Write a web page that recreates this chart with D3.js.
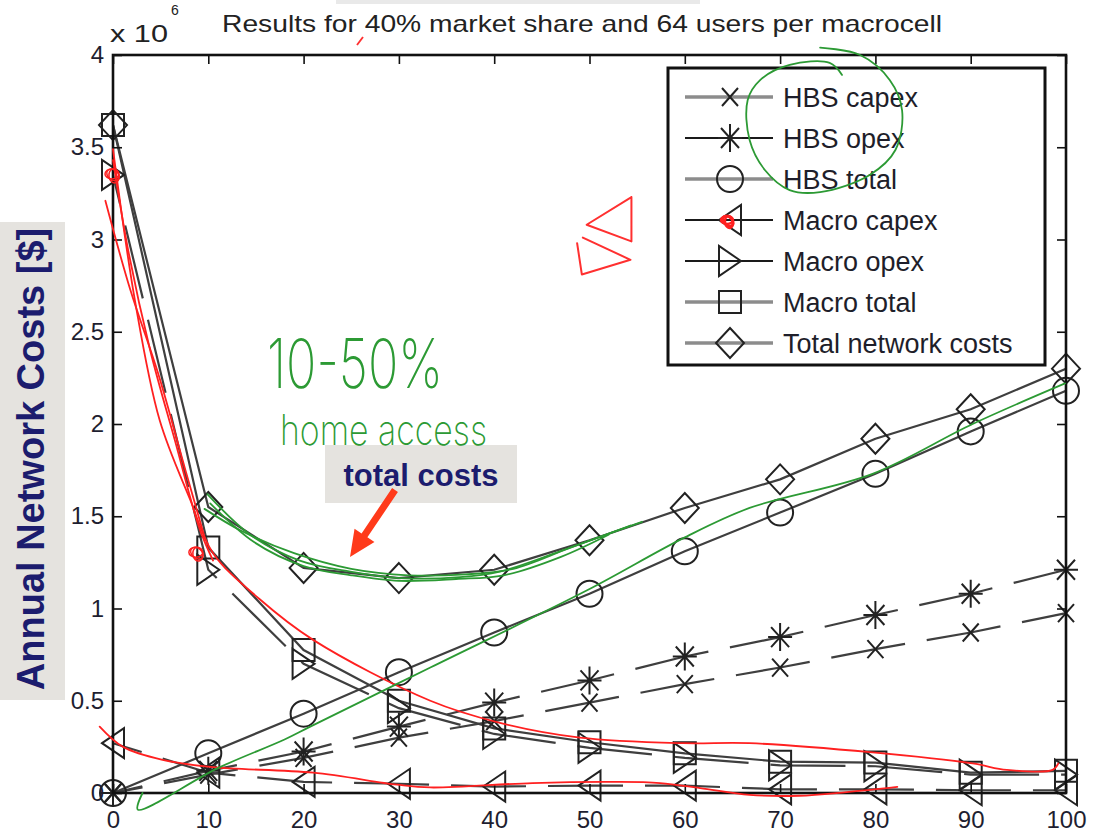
<!DOCTYPE html>
<html>
<head>
<meta charset="utf-8">
<script src="https://cdn.jsdelivr.net/npm/d3@7"></script>
<style>
  body { margin: 0; background: #fff; }
  svg { display: block; font-family: "Liberation Sans", Arial, Helvetica, sans-serif; }
</style>
</head>
<body>
<svg id="chart" width="1094" height="832"></svg>
<script>
// ----------------------
// data (values in 10^6 $)
// ----------------------
const homeShare = [0, 10, 20, 30, 40, 50, 60, 70, 80, 90, 100];

const hbsCapex   = [0, 0.10, 0.19, 0.30, 0.39, 0.49, 0.59, 0.68, 0.78, 0.87, 0.975];
const hbsOpex    = [0, 0.12, 0.225, 0.36, 0.49, 0.61, 0.74, 0.845, 0.965, 1.08, 1.21];
const hbsTotal   = [0, 0.215, 0.43, 0.655, 0.87, 1.08, 1.31, 1.52, 1.73, 1.96, 2.18];
const macroCapex = [0.27, 0.11, 0.06, 0.05, 0.035, 0.04, 0.04, 0.02, 0.02, 0.015, 0.015];
const macroOpex  = [3.35, 1.21, 0.70, 0.46, 0.32, 0.245, 0.19, 0.15, 0.145, 0.10, 0.10];
const macroTotal = [3.62, 1.33, 0.775, 0.50, 0.35, 0.275, 0.215, 0.17, 0.165, 0.11, 0.12];
const totalCosts = [3.62, 1.55, 1.22, 1.165, 1.21, 1.37, 1.545, 1.70, 1.92, 2.08, 2.30];

const seriesNames = ["HBS capex", "HBS opex", "HBS total", "Macro capex", "Macro opex", "Macro total", "Total network costs"];
const xTicks = [0, 10, 20, 30, 40, 50, 60, 70, 80, 90, 100];
const yTicks = [0, 0.5, 1, 1.5, 2, 2.5, 3, 3.5, 4];

// hand-drawn annotations, in data units (x %, y 10^6 $)
const redDownA = [[0, 3.49], [2.3, 2.67], [4.9, 2.02], [8.1, 1.59], [10.5, 1.30], [15.4, 1.05], [21, 0.83],
  [33.3, 0.50], [40.6, 0.38], [49, 0.30], [59.8, 0.27], [66.8, 0.27], [79.7, 0.22], [90.2, 0.16],
  [93.8, 0.125], [98.6, 0.125], [99.2, 0.16]];
const redDownB = [[-0.8, 3.21], [1.8, 2.73], [4.7, 2.28], [7.6, 1.75], [9.7, 1.37]];
const redDownC = [[0, 3.43], [1.6, 2.94], [3.9, 2.40], [6.5, 1.91], [9.1, 1.43], [10.5, 1.26]];
const redLow = [[-1.4, 0.36], [1.05, 0.25], [5.2, 0.18], [10.5, 0.14], [21, 0.11], [29.8, 0.045], [33.3, 0.03],
  [44, 0.054], [52.5, 0.06], [57.4, 0.054], [61.6, 0.027], [66.8, -0.01], [72, -0.015], [77, 0.005], [82.3, 0.033]];
const greenHbs = [[3.1, 0.0], [2.6, -0.09], [11, 0.135], [18, 0.29], [20.7, 0.36], [33.3, 0.68], [49.8, 1.10],
  [59.8, 1.38], [66.8, 1.545], [79.7, 1.73], [90.2, 2.0], [99.9, 2.22]];
const greenTotal1 = [[9.9, 1.62], [14.4, 1.40], [19.6, 1.26], [24.9, 1.20], [30.1, 1.165], [36.4, 1.17], [40.6, 1.20], [46.9, 1.31], [54.3, 1.45]];
const greenTotal2 = [[10.2, 1.57], [14.8, 1.36], [20, 1.23], [25, 1.18], [30, 1.15], [36, 1.16], [41, 1.18], [47, 1.28], [52, 1.40]];
const greenTotal3 = [[9.6, 1.54], [13.5, 1.42], [19, 1.30], [25, 1.215], [31, 1.18], [37, 1.185], [42, 1.215], [48, 1.33], [55.5, 1.47]];
const greenLoop = [[74.2, 4.04], [78.4, 4.0], [81.5, 3.865], [82.8, 3.70], [82.1, 3.485], [79.4, 3.35], [74.2, 3.257],
  [71.0, 3.268], [68.4, 3.377], [66.8, 3.539], [66.6, 3.756], [67.9, 3.864], [71.0, 3.946], [75.2, 3.957], [76.5, 3.892]];
const redTri1 = [[54.4, 3.23], [49.7, 3.08], [54.4, 2.99], [54.4, 3.23]];
const redTri2 = [[49.3, 3.01], [54.3, 2.89], [49.2, 2.81], [48.7, 2.98]];
const redScribbles = [[8.8, 1.30], [0, 3.35]];

// ----------------------
// layout
// ----------------------
const svg = d3.select("#chart");
const W = +svg.attr("width");
const H = +svg.attr("height");
const margin = { top: 55, right: 28, bottom: 39, left: 113 };
const innerW = W - margin.left - margin.right;
const innerH = H - margin.top - margin.bottom;

const x = d3.scaleLinear().domain([0, 100]).range([0, innerW]);
const y = d3.scaleLinear().domain([0, 4]).range([innerH, 0]);

// slide decorations behind the chart
svg.append("rect").attr("x", 336).attr("y", 0).attr("width", 364).attr("height", 4).attr("fill", "#e9e9e9");
svg.append("rect").attr("x", 0).attr("y", 222).attr("width", 65).attr("height", 478).attr("fill", "#e5e3df");

svg.append("text")
  .attr("transform", "translate(44,459) rotate(-90)")
  .attr("text-anchor", "middle")
  .attr("font-size", 38)
  .attr("font-weight", "bold")
  .attr("fill", "#1c1c6e")
  .text("Annual Network Costs [$]");

svg.append("text")
  .attr("x", 222).attr("y", 32)
  .attr("font-size", 24)
  .attr("fill", "#222")
  .attr("textLength", 720)
  .attr("lengthAdjust", "spacingAndGlyphs")
  .text("Results for 40% market share and 64 users per macrocell");

svg.append("text")
  .attr("x", 110).attr("y", 42)
  .attr("font-size", 24).attr("fill", "#222")
  .attr("textLength", 58).attr("lengthAdjust", "spacingAndGlyphs")
  .text("x 10");
svg.append("text")
  .attr("x", 171).attr("y", 15)
  .attr("font-size", 14).attr("fill", "#222")
  .text("6");

const g = svg.append("g").attr("transform", `translate(${margin.left},${margin.top})`);

// ----------------------
// series
// ----------------------
const markerPath = {
  x: "M-8,-9L8,9M-8,9L8,-9",
  star: "M0,-14V14M-12,0H12M-9,-10L9,10M-9,10L9,-10",
  circle: "M13,0A13,13 0 1,1 -13,0A13,13 0 1,1 13,0Z",
  left: "M-11,0L11,-15L11,15Z",
  right: "M11,0L-11,-15L-11,15Z",
  square: "M-11,-11H11V11H-11Z",
  diamond: "M0,-15L14,0L0,15L-14,0Z"
};

const series = [
  { name: seriesNames[0], values: hbsCapex,   marker: "x",       dashed: true,  legendColor: "#8c8c8c" },
  { name: seriesNames[1], values: hbsOpex,    marker: "star",    dashed: true,  legendColor: "#1a1a1a" },
  { name: seriesNames[2], values: hbsTotal,   marker: "circle",  dashed: false, legendColor: "#8c8c8c" },
  { name: seriesNames[3], values: macroCapex, marker: "left",    dashed: true,  legendColor: "#1a1a1a" },
  { name: seriesNames[4], values: macroOpex,  marker: "right",   dashed: true,  legendColor: "#1a1a1a" },
  { name: seriesNames[5], values: macroTotal, marker: "square",  dashed: false, legendColor: "#8c8c8c" },
  { name: seriesNames[6], values: totalCosts, marker: "diamond", dashed: false, legendColor: "#8c8c8c" }
];

const line = d3.line()
  .x((d, i) => x(homeShare[i]))
  .y(d => y(d));

g.selectAll("path.series-line")
  .data(series)
  .enter()
  .append("path")
  .attr("class", "series-line")
  .attr("d", d => line(d.values))
  .attr("fill", "none")
  .attr("stroke", "#3f3f3f")
  .attr("stroke-width", 2.2)
  .attr("stroke-dasharray", d => d.dashed ? "75,22" : null)
  .attr("stroke-dashoffset", 45);

series.forEach(s => {
  g.selectAll(null)
    .data(s.values)
    .enter()
    .append("path")
    .attr("transform", (d, i) => `translate(${x(homeShare[i])},${y(d)})`)
    .attr("d", markerPath[s.marker])
    .attr("fill", "none")
    .attr("stroke", "#222")
    .attr("stroke-width", 2);
});

// ----------------------
// axes + frame
// ----------------------
const styleAxis = sel => {
  sel.select(".domain").remove();
  sel.selectAll(".tick line").attr("stroke", "#111").attr("stroke-width", 1.6);
  sel.selectAll(".tick text").attr("font-size", 24).attr("fill", "#1e1e30")
    .attr("font-family", "'Liberation Sans', Arial, sans-serif");
};

g.append("g")
  .attr("transform", `translate(0,${innerH})`)
  .call(d3.axisBottom(x).tickValues(xTicks).tickSize(-9).tickPadding(18).tickFormat(d3.format("d")))
  .call(styleAxis);
g.append("g")
  .call(d3.axisTop(x).tickValues(xTicks).tickSize(-9).tickFormat(""))
  .call(styleAxis);
g.append("g")
  .call(d3.axisLeft(y).tickValues(yTicks).tickSize(-9).tickPadding(9).tickFormat(d => String(d)))
  .call(styleAxis);
g.append("g")
  .attr("transform", `translate(${innerW},0)`)
  .call(d3.axisRight(y).tickValues(yTicks).tickSize(-9).tickFormat(""))
  .call(styleAxis);

g.append("rect")
  .attr("width", innerW).attr("height", innerH)
  .attr("fill", "none").attr("stroke", "#111").attr("stroke-width", 2.6);

// ----------------------
// legend
// ----------------------
const legend = svg.append("g").attr("transform", "translate(668,68)");
legend.append("rect")
  .attr("width", 377).attr("height", 297)
  .attr("fill", "#fff").attr("stroke", "#111").attr("stroke-width", 3);

const rows = legend.selectAll("g.row")
  .data(series)
  .enter()
  .append("g")
  .attr("class", "row")
  .attr("transform", (d, i) => `translate(0,${29 + i * 41})`);

rows.append("line")
  .attr("x1", 17).attr("x2", 105)
  .attr("stroke", d => d.legendColor)
  .attr("stroke-width", d => d.legendColor === "#1a1a1a" ? 2 : 3.5);
rows.append("path")
  .attr("transform", "translate(62,0)")
  .attr("d", d => markerPath[d.marker])
  .attr("fill", "none")
  .attr("stroke", "#222")
  .attr("stroke-width", 2);
rows.append("text")
  .attr("x", 115).attr("y", 10)
  .attr("font-size", 27)
  .attr("fill", "#1e1e2a")
  .text(d => d.name);

// ----------------------
// slide callout
// ----------------------
svg.append("rect").attr("x", 325).attr("y", 445).attr("width", 192).attr("height", 58).attr("fill", "#e5e3df");
svg.append("text")
  .attr("x", 421).attr("y", 486)
  .attr("text-anchor", "middle")
  .attr("font-size", 31)
  .attr("font-weight", "bold")
  .attr("fill", "#1c1c6e")
  .text("total costs");

function arrowPath(x0, y0, x1, y1, shaft, headLen, headHalf) {
  const len = Math.hypot(x1 - x0, y1 - y0);
  const ux = (x1 - x0) / len, uy = (y1 - y0) / len;
  const nx = -uy, ny = ux;
  const bx = x1 - ux * headLen, by = y1 - uy * headLen;
  const p = [
    [x0 + nx * shaft, y0 + ny * shaft],
    [bx + nx * shaft, by + ny * shaft],
    [bx + nx * headHalf, by + ny * headHalf],
    [x1, y1],
    [bx - nx * headHalf, by - ny * headHalf],
    [bx - nx * shaft, by - ny * shaft],
    [x0 - nx * shaft, y0 - ny * shaft]
  ];
  return "M" + p.map(q => q.join(",")).join("L") + "Z";
}
svg.append("path").attr("d", arrowPath(395, 490, 350, 557, 3.5, 26, 12)).attr("fill", "#ff3a1a");

// ----------------------
// hand-drawn pen marks (on top of everything)
// ----------------------
const pen = d3.line().x(d => x(d[0])).y(d => y(d[1])).curve(d3.curveCatmullRom);
const penG = svg.append("g")
  .attr("transform", `translate(${margin.left},${margin.top})`)
  .attr("fill", "none").attr("stroke-linecap", "round").attr("stroke-linejoin", "round");

[redDownA, redDownB, redDownC, redLow].forEach(pts => {
  penG.append("path").attr("d", pen(pts)).attr("stroke", "#ff2020").attr("stroke-width", 1.8);
});
[redTri1, redTri2].forEach(pts => {
  penG.append("path").attr("d", d3.line().x(d => x(d[0])).y(d => y(d[1]))(pts))
    .attr("stroke", "#ff3030").attr("stroke-width", 2);
});
[greenHbs, greenTotal1, greenTotal2, greenTotal3, greenLoop].forEach(pts => {
  penG.append("path").attr("d", pen(pts)).attr("stroke", "#2c9a34").attr("stroke-width", 1.8);
});

redScribbles.forEach(p => {
  [0, 40, 80].forEach((rot, k) => {
    penG.append("ellipse")
      .attr("transform", `translate(${x(p[0]) + k - 1},${y(p[1]) + k - 1}) rotate(${rot})`)
      .attr("rx", 7).attr("ry", 5)
      .attr("stroke", "#ff2020").attr("stroke-width", 1.5);
  });
});
[0, 40, 80].forEach((rot, k) => {
  legend.append("ellipse")
    .attr("transform", `translate(${59 + k},${152 + k}) rotate(${rot})`)
    .attr("rx", 6).attr("ry", 4)
    .attr("fill", "none").attr("stroke", "#ff2020").attr("stroke-width", 2.5);
});
svg.append("line").attr("x1", 357).attr("y1", 45).attr("x2", 363).attr("y2", 37)
  .attr("stroke", "#ff3030").attr("stroke-width", 1.8);

// handwritten note
svg.append("text")
  .attr("x", 267).attr("y", 388)
  .attr("font-family", "Inter, Roboto, sans-serif")
  .attr("font-weight", 200)
  .attr("font-size", 68)
  .attr("fill", "#2c9a34")
  .attr("textLength", 176)
  .attr("lengthAdjust", "spacingAndGlyphs")
  .text("10-50%");
svg.append("text")
  .attr("x", 280).attr("y", 445)
  .attr("font-family", "Inter, Roboto, sans-serif")
  .attr("font-weight", 200)
  .attr("font-size", 42)
  .attr("fill", "#2c9a34")
  .attr("textLength", 207)
  .attr("lengthAdjust", "spacingAndGlyphs")
  .text("home access");
</script>
</body>
</html>
